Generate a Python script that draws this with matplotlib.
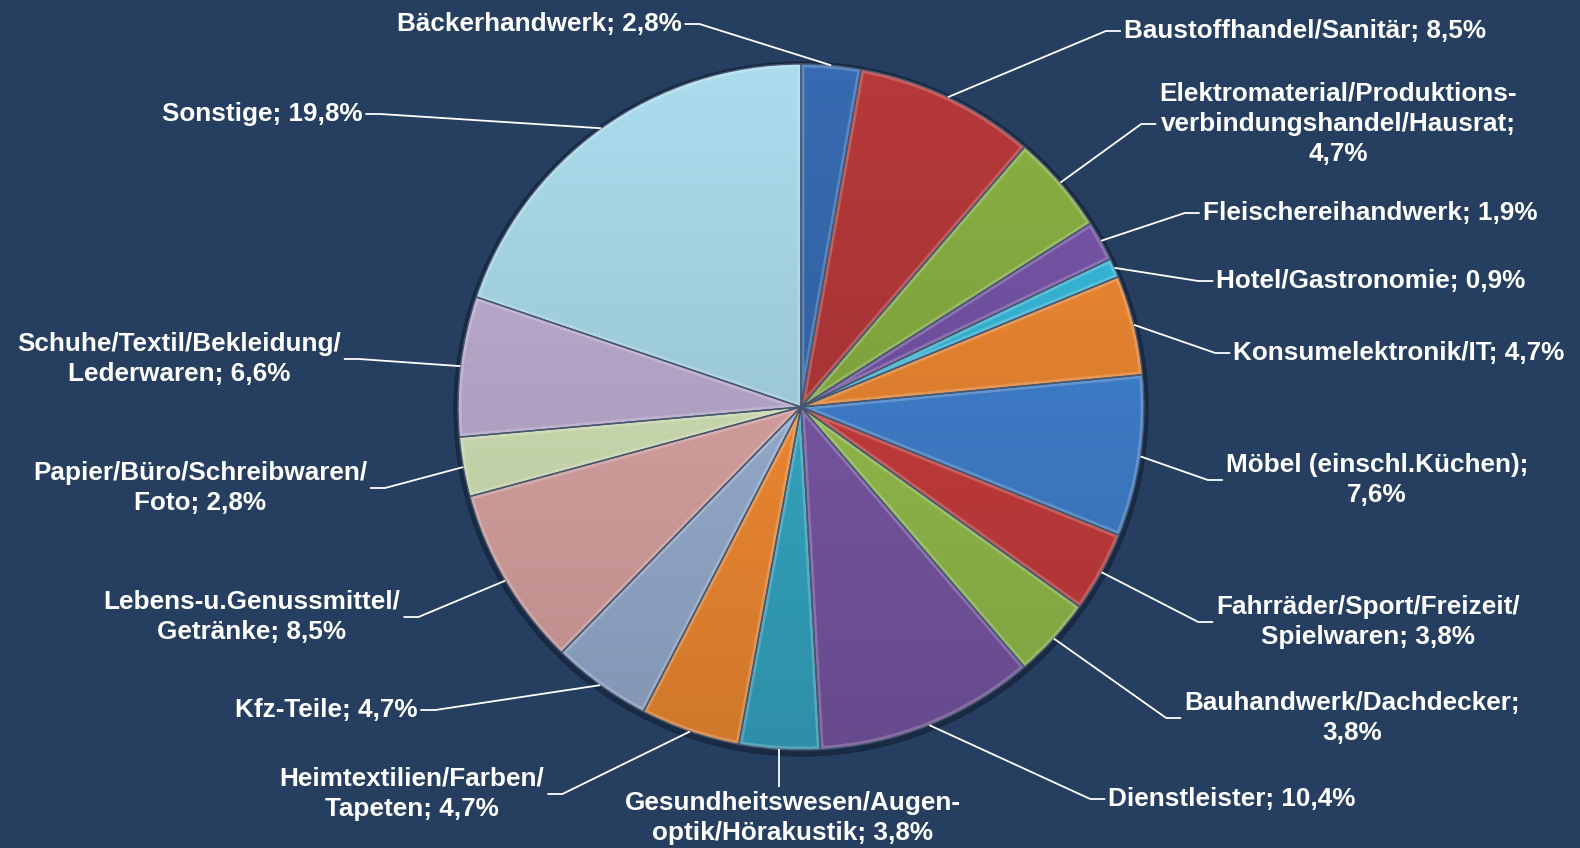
import numpy as np
import matplotlib
matplotlib.use('Agg')
import matplotlib.pyplot as plt
from matplotlib.colors import to_rgb
from matplotlib.patches import Circle, PathPatch

# data (percent), clockwise from 12 o'clock
categories = ['Bäckerhandwerk', 'Baustoffhandel/Sanitär',
              'Elektromaterial/Produktions-\nverbindungshandel/Hausrat',
              'Fleischereihandwerk', 'Hotel/Gastronomie', 'Konsumelektronik/IT',
              'Möbel (einschl.Küchen)', 'Fahrräder/Sport/Freizeit/\nSpielwaren',
              'Bauhandwerk/Dachdecker', 'Dienstleister',
              'Gesundheitswesen/Augen-\noptik/Hörakustik',
              'Heimtextilien/Farben/\nTapeten', 'Kfz-Teile',
              'Lebens-u.Genussmittel/\nGetränke', 'Papier/Büro/Schreibwaren/\nFoto',
              'Schuhe/Textil/Bekleidung/\nLederwaren', 'Sonstige']
values = [2.8, 8.5, 4.7, 1.9, 0.9, 4.7, 7.6, 3.8, 3.8, 10.4, 3.8, 4.7, 4.7, 8.5, 2.8, 6.6, 19.8]
separators = ['; ', '; ', ';\n', '; ', '; ', '; ', ';\n', '; ', ';\n', '; ',
              '; ', '; ', '; ', '; ', '; ', '; ', '; ']

colors = ['#3669AE', '#B43839', '#88AE42', '#7554A6', '#37B8DA', '#EE8832',
          '#4183D2', '#CC3E3E', '#98C24E', '#7C5AAA', '#37ADCA', '#FB9034',
          '#9DB4D8', '#E0A8A7', '#D6E6B8', '#BEAED2', '#A8D8E9']

# label layout (pixel positions of label centres, y from top) and leader side
label_pos = [(539, 24), (1305, 31), (1338, 124), (1370, 213), (1371, 281),
             (1399, 353), (1377, 480), (1368, 622), (1352, 718), (1232, 799),
             (793, 818), (412, 794), (326, 710), (252, 617), (200, 488),
             (179, 359), (262, 114)]
label_side = ['r', 'l', 'l', 'l', 'l', 'l', 'l', 'l', 'l', 'l',
              't', 'r', 'r', 'r', 'r', 'r', 'r']

W, H = 1580, 848
bg = '#263F60'
cx, cy, R = 801, H - 407, 343

fig = plt.figure(figsize=(W / 100, H / 100), dpi=100, facecolor=bg)
ax = fig.add_axes([0, 0, 1, 1])
ax.set_facecolor(bg)

# soft shadow behind the pie
ax.add_patch(Circle((cx, cy - 2), R + 4, color='#15243a', alpha=0.7, zorder=1))

wedges, _ = ax.pie(values, colors=colors, startangle=90, counterclock=False,
                   center=(cx, cy), radius=R, frame=True,
                   wedgeprops=dict(linewidth=1.0, edgecolor='#46566e'))

# vertical shading over the whole pie, clipped to each wedge
shade = np.linspace(1.02, 0.83, 256)
for w, c in zip(wedges, colors):
    rgb = np.array(to_rgb(c))
    img = np.clip(shade[:, None, None] * rgb[None, None, :], 0, 1)
    im = ax.imshow(img, extent=(cx - R, cx + R, cy - R, cy + R), origin='upper',
                   aspect='auto', zorder=2, interpolation='bilinear')
    im.set_clip_path(w)
    w.set_facecolor('none')
    w.set_zorder(4)
    # bevel highlight along the inside of each wedge
    hl = PathPatch(w.get_path(), transform=w.get_transform(), facecolor='none',
                   edgecolor='white', lw=5, alpha=0.2, zorder=3)
    ax.add_patch(hl)
    hl.set_clip_path(w)

ax.set_xlim(0, W)
ax.set_ylim(0, H)
ax.axis('off')

texts = []
for name, v, sep, (lx, ly) in zip(categories, values, separators, label_pos):
    s = name + sep + ('%.1f%%' % v).replace('.', ',')
    t = ax.text(lx, H - ly, s, ha='center', va='center', multialignment='center',
                color='white', fontsize=18.8, fontweight='bold',
                family='Liberation Sans', linespacing=1.32, zorder=6)
    texts.append(t)

fig.canvas.draw()
renderer = fig.canvas.get_renderer()
inv = ax.transData.inverted()

cum = np.cumsum([0] + values[:-1])
for t, v, c0, side in zip(texts, values, cum, label_side):
    ang = np.deg2rad(90 - (c0 + v / 2) * 3.6)
    px, py = cx + R * np.cos(ang), cy + R * np.sin(ang)
    bb = t.get_window_extent(renderer).transformed(inv)
    ym = (bb.y0 + bb.y1) / 2
    if side == 'l':
        xs = [px, bb.x0 - 18, bb.x0 - 3]
        ys = [py, ym, ym]
    elif side == 'r':
        xs = [px, bb.x1 + 18, bb.x1 + 3]
        ys = [py, ym, ym]
    else:
        xs = [px, px]
        ys = [py, bb.y1 + 4]
    ax.plot(xs, ys, color='white', lw=1.3, zorder=5, solid_capstyle='butt')

fig.savefig('out.png', dpi=100, facecolor=bg)
